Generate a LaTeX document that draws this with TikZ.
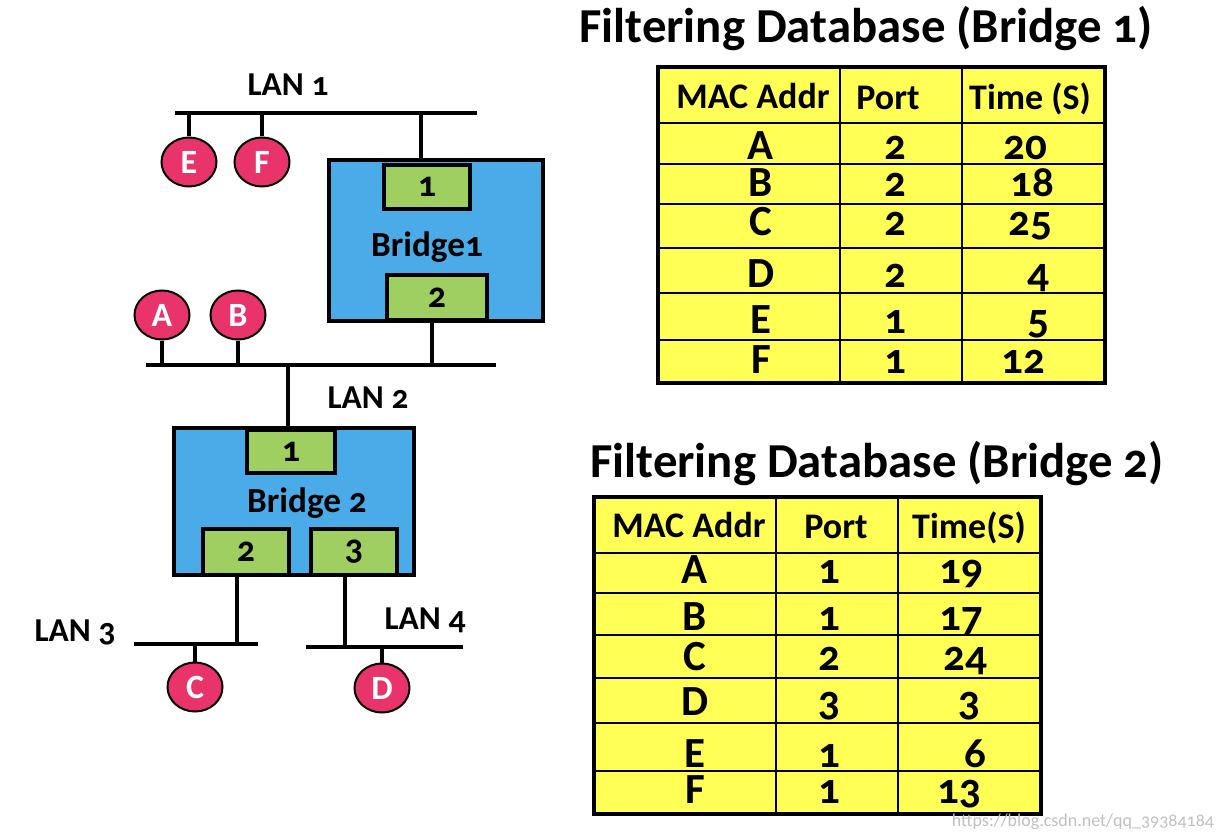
\documentclass[tikz,border=0pt]{standalone}
\usepackage{fontspec}
\setmainfont{Carlito}[Numbers=OldStyle]
\usetikzlibrary{shapes.geometric}
\definecolor{bridgeblue}{HTML}{4AABE8}
\definecolor{portgreen}{HTML}{9ECF60}
\definecolor{hostred}{HTML}{E8336B}
\definecolor{tabyellow}{HTML}{FFFF55}
\begin{document}
\begin{tikzpicture}[x=0.5pt,y=-0.5pt,
    host/.style={ellipse,draw,line width=1pt,fill=hostred,text=white,inner sep=0pt,
      minimum width=27.5pt,minimum height=24.5pt,font=\bfseries\fontsize{17}{17}\selectfont},
    bridge/.style={draw,line width=1.8pt,fill=bridgeblue,inner sep=0pt},
    port/.style={draw,line width=1.8pt,fill=portgreen,inner sep=0pt,
      font=\bfseries\fontsize{18}{18}\selectfont},
    lan/.style={line width=1.6pt},
    lbl/.style={font=\bfseries\fontsize{16.7}{17}\selectfont},
    title/.style={anchor=base,font=\bfseries\fontsize{24.4}{25}\selectfont},
    head/.style={anchor=base,font=\bfseries\fontsize{18}{18}\selectfont},
    cell/.style={anchor=base,inner sep=0pt,text depth=0pt,font=\bfseries\fontsize{21.5}{22}\selectfont}]
  \useasboundingbox (0,0) rectangle (1216,840);

  % LAN segments
  \coordinate (l1a) at (175,113); \coordinate (l1b) at (477,113);
  \coordinate (l2a) at (146,365); \coordinate (l2b) at (496,365);
  \coordinate (l3a) at (134,644); \coordinate (l3b) at (258,644);
  \coordinate (l4a) at (306,647); \coordinate (l4b) at (463,647);
  \draw[lan] (l1a) -- (l1b);
  \draw[lan] (l2a) -- (l2b);
  \draw[lan] (l3a) -- (l3b);
  \draw[lan] (l4a) -- (l4b);
  \node[lbl] (lan1) at (288,85) {LAN 1};
  \node[lbl] (lan2) at (368,398) {LAN 2};
  \node[lbl] (lan3) at (75,632) {LAN 3};
  \node[lbl] (lan4) at (425,620) {LAN 4};

  % bridges and ports
  \node[bridge,minimum width=107pt,minimum height=80.5pt] (bridge1) at (436,240.5) {};
  \node[port,minimum width=43pt,minimum height=22pt] (b1p1) at (427,187) {1};
  \node[port,minimum width=50pt,minimum height=22.5pt] (b1p2) at (437,297.5) {2};
  \node[lbl,font=\bfseries\fontsize{17.6}{18}\selectfont] (b1name) at (427,247) {Bridge1};

  \node[bridge,minimum width=120pt,minimum height=73.5pt] (bridge2) at (294,501.5) {};
  \node[port,minimum width=44pt,minimum height=21.5pt] (b2p1) at (291,451.5) {1};
  \node[port,minimum width=43pt,minimum height=23pt] (b2p2) at (246,552) {2};
  \node[port,minimum width=43pt,minimum height=23pt] (b2p3) at (354,552) {3};
  \node[lbl,font=\bfseries\fontsize{17.6}{18}\selectfont] (b2name) at (307,503) {Bridge 2};

  % stations
  \node[host] (E) at (189,162) {E};
  \node[host] (F) at (262,162) {F};
  \node[host] (A) at (162,315) {A};
  \node[host] (B) at (238,315) {B};
  \node[host] (C) at (195,687) {C};
  \node[host] (D) at (382,688) {D};

  \draw[lan] (E) -- (E |- l1a);
  \draw[lan] (F) -- (F |- l1a);
  \draw[lan] (A) -- (A |- l2a);
  \draw[lan] (B) -- (B |- l2a);
  \draw[lan] (C) -- (C |- l3a);
  \draw[lan] (D) -- (D |- l4a);
  \coordinate (d1) at (421,113);
  \draw[lan] (d1) -- (d1 |- bridge1.north);
  \coordinate (d2) at (432,365);
  \draw[lan] (d2 |- bridge1.south) -- (d2);
  \coordinate (d3) at (288,365);
  \draw[lan] (d3) -- (d3 |- bridge2.north);
  \coordinate (d4) at (237,644);
  \draw[lan] (d4 |- bridge2.south) -- (d4);
  \coordinate (d5) at (345,647);
  \draw[lan] (d5 |- bridge2.south) -- (d5);

  % filtering database, bridge 1
  \node[title] (title1) at (866,43) {Filtering Database (Bridge 1)};
  \fill[tabyellow] (658,67) rectangle (1105,383);
  \foreach \x in {840,962} \draw[line width=1pt] (\x,67) -- (\x,383);
  \foreach \y in {123,164,204,248,293,340} \draw[line width=1pt] (658,\y) -- (1105,\y);
  \draw[line width=1.8pt] (658,67) rectangle (1105,383);
  \node[head] (t1mac) at (753,109) {MAC Addr};
  \node[head] (t1port) at (888,110) {Port};
  \node[head] (t1time) at (1030,110) {Time (S)};
  \foreach \m/\p/\t/\tx/\y in {A/2/20/1025/160,B/2/18/1032/197,C/2/25/1030/235,
      D/2/4/1038/287,E/1/5/1038/333,F/1/12/1023/373} {
    \node[cell] (t1\m) at (761,\y) {\m};
    \node[cell] (t1p\m) at (895,\y) {\p};
    \node[cell] (t1t\m) at (\tx,\y) {\t};
  }

  % filtering database, bridge 2
  \node[title] (title2) at (877,477) {Filtering Database (Bridge 2)};
  \fill[tabyellow] (594,497) rectangle (1041,814);
  \foreach \x in {776,898} \draw[line width=1pt] (\x,497) -- (\x,814);
  \foreach \y in {553,593,635,678,723,771} \draw[line width=1pt] (594,\y) -- (1041,\y);
  \draw[line width=1.8pt] (594,497) rectangle (1041,814);
  \node[head] (t2mac) at (689,537) {MAC Addr};
  \node[head] (t2port) at (836,538) {Port};
  \node[head] (t2time) at (969,538) {Time(S)};
  \foreach \m/\p/\t/\tx/\y in {A/1/19/961/583,B/1/17/961/630,C/2/24/965/670,
      D/3/3/969/715,E/1/6/975/767,F/1/13/959/803} {
    \node[cell] (t2\m) at (695,\y) {\m};
    \node[cell] (t2p\m) at (829,\y) {\p};
    \node[cell] (t2t\m) at (\tx,\y) {\t};
  }

  \node[text=black!25,font=\fontsize{9}{9}\selectfont] (mark) at (1083,822)
    {https://blog.csdn.net/qq\_39384184};
\end{tikzpicture}
\end{document}
